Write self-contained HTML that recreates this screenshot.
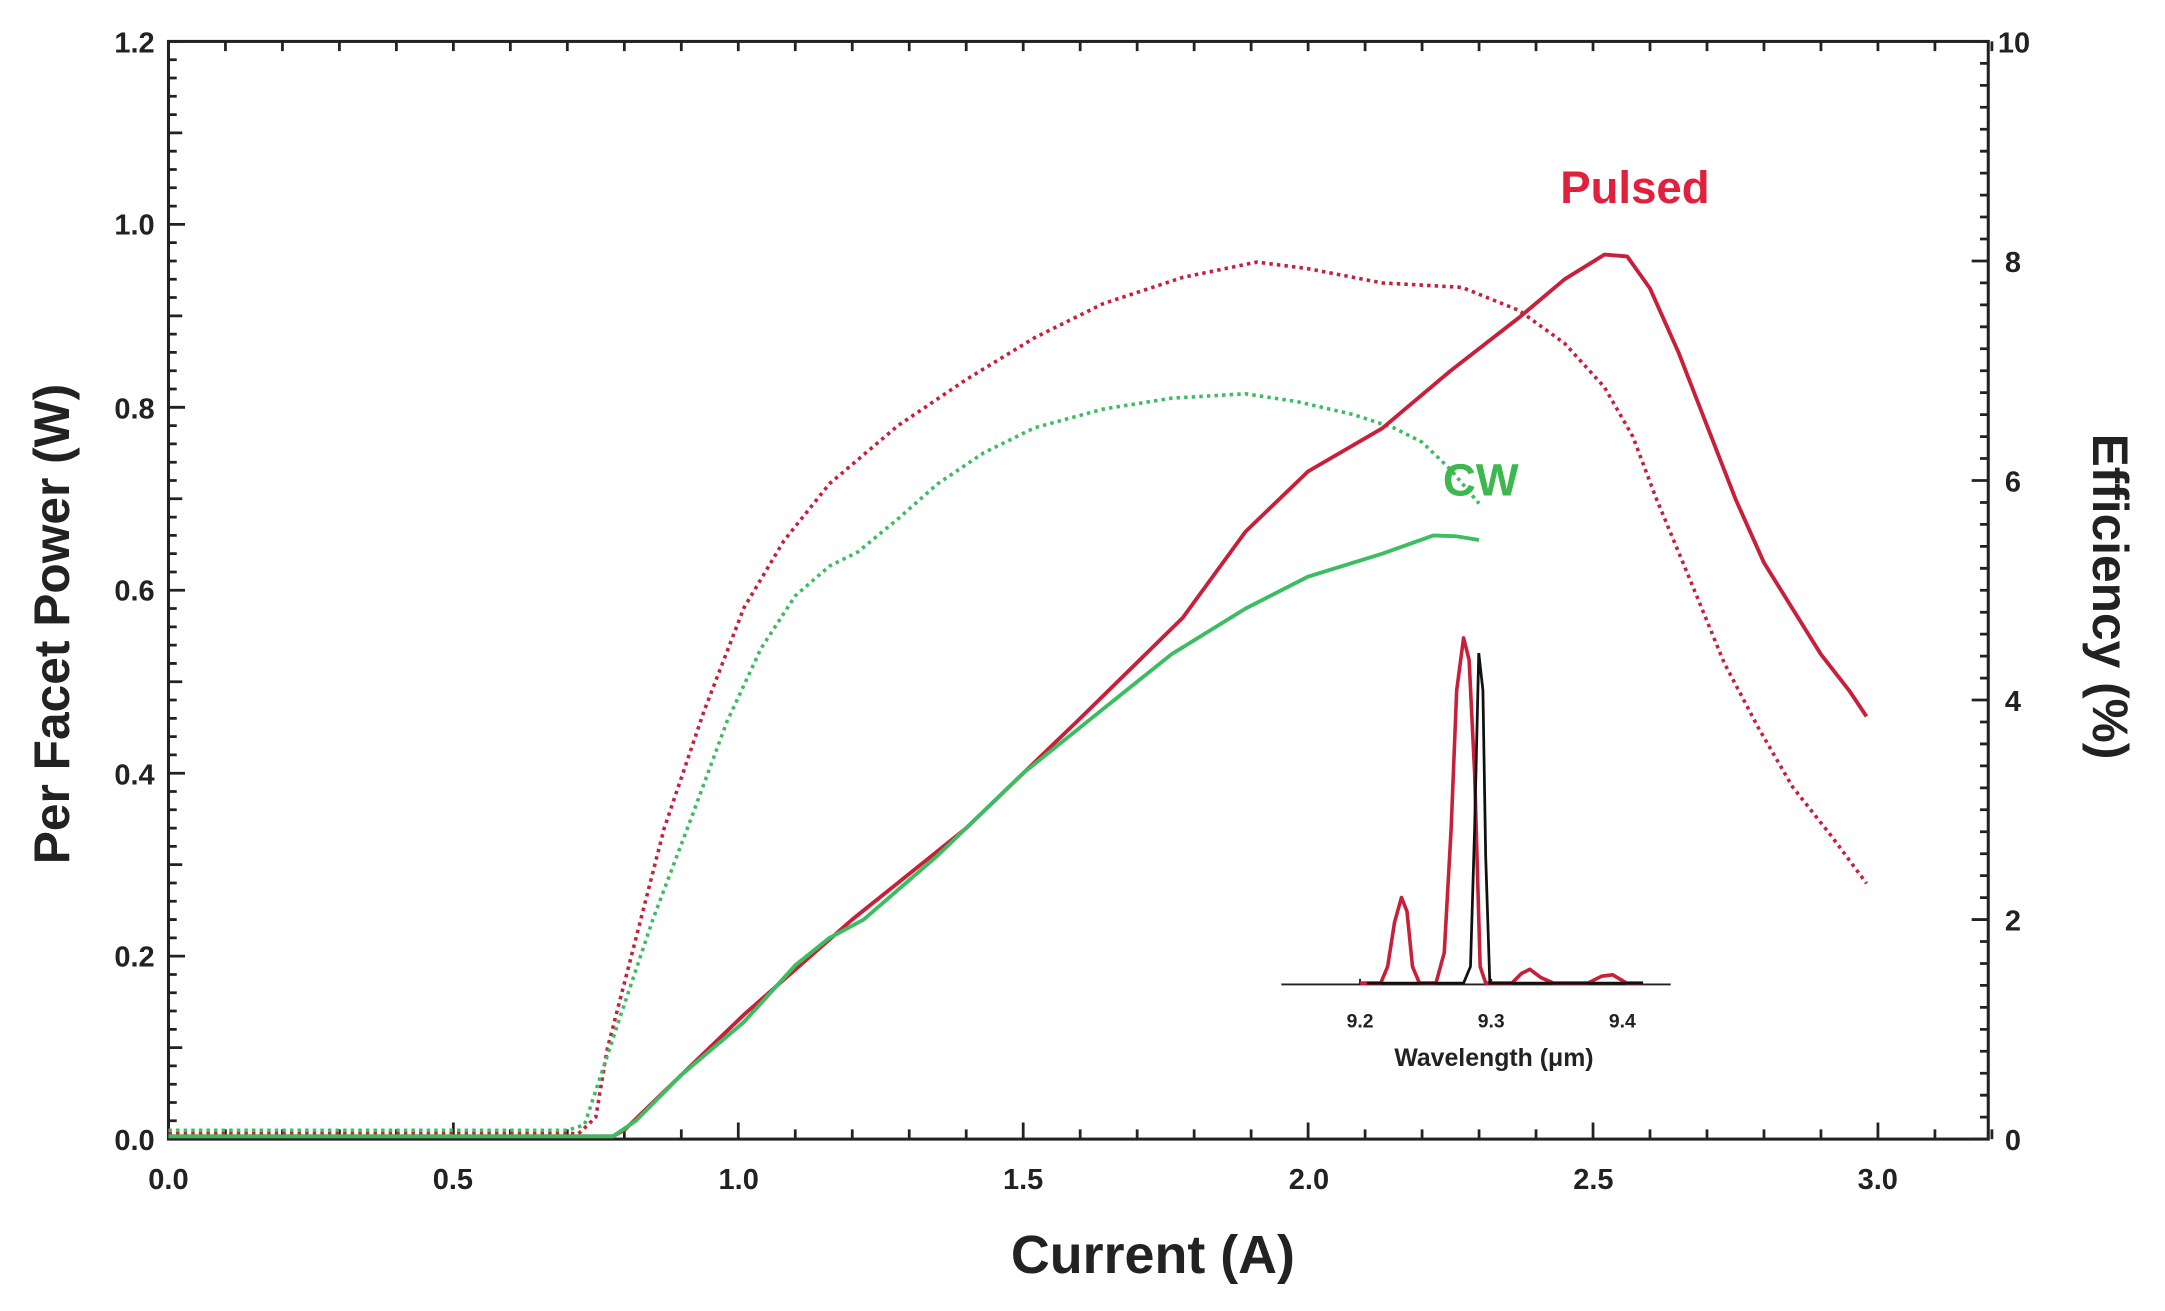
<!DOCTYPE html>
<html><head><meta charset="utf-8"><style>
html,body{margin:0;padding:0;background:#fff;}
svg{display:block;}
text{font-family:"Liberation Sans",Arial,sans-serif;font-weight:bold;fill:#222;}
</style></head><body>
<svg id="s" width="2165" height="1311" viewBox="0 0 1568 949.5" xmlns="http://www.w3.org/2000/svg">
<g id="g"></g>
<g font-size="21" text-anchor="middle">
<text x="122" y="861">0.0</text>
<text x="328" y="861">0.5</text>
<text x="535" y="861">1.0</text>
<text x="741" y="861">1.5</text>
<text x="948" y="861">2.0</text>
<text x="1154" y="861">2.5</text>
<text x="1360" y="861">3.0</text>
</g>
<g font-size="21" text-anchor="end">
<text x="112" y="833">0.0</text>
<text x="112" y="700">0.2</text>
<text x="112" y="568">0.4</text>
<text x="112" y="435">0.6</text>
<text x="112" y="303">0.8</text>
<text x="112" y="170">1.0</text>
<text x="112" y="38">1.2</text>
</g>
<g font-size="21">
<text x="1452" y="833">0</text>
<text x="1452" y="674">2</text>
<text x="1452" y="515">4</text>
<text x="1452" y="356">6</text>
<text x="1452" y="197">8</text>
<text x="1447" y="38">10</text>
</g>
<text x="835" y="922" font-size="39" text-anchor="middle">Current (A)</text>
<text transform="translate(50,452) rotate(-90)" font-size="36" text-anchor="middle">Per Facet Power (W)</text>
<text transform="translate(1516,432) rotate(90)" font-size="36" text-anchor="middle">Efficiency (%)</text>
<text x="1130" y="147" font-size="33" style="fill:#e0203c">Pulsed</text>
<text x="1045" y="359" font-size="33" style="fill:#3cb84f">CW</text>
<text x="985" y="744" font-size="14" text-anchor="middle">9.2</text>
<text x="1080" y="744" font-size="14" text-anchor="middle">9.3</text>
<text x="1175" y="744" font-size="14" text-anchor="middle">9.4</text>
<text x="1082" y="772" font-size="18" text-anchor="middle">Wavelength (μm)</text>
</svg>
<script>
var g=document.getElementById('g'),NS='http://www.w3.org/2000/svg';
function el(t,a){var e=document.createElementNS(NS,t);for(var k in a)e.setAttribute(k,a[k]);g.appendChild(e);return e;}
var X=function(c){return 122+c*412.7},Yp=function(p){return 825-p*662.5},Ye=function(e){return 825-e*79.5};
el('rect',{x:122,y:30,width:1318,height:795,fill:'none',stroke:'#222','stroke-width':2.2});
var t='';
for(var i=0;i<=32;i++){var x=X(i*0.1);var L=(i%5==0)?12:7;t+='M'+x+' 825v-'+L+'M'+x+' 30v'+7;}
for(var i=0;i<=60;i++){var y=Yp(i*0.02);var L=(i%10==0)?12:(i%5==0?10:6);t+='M122 '+y+'h'+L;}
for(var i=0;i<=50;i++){var y=Ye(i*0.2);var L=(i%10==0)?12:6;t+='M1440 '+y+'h-'+L;}
el('path',{d:t,stroke:'#222','stroke-width':2,fill:'none'});
function sm(pts,fy){var d='';for(var i=0;i<pts.length;i++){d+=(i?'L':'M')+X(pts[i][0]).toFixed(1)+' '+fy(pts[i][1]).toFixed(1);}return d;}
var red='#c8203a',grn='#3cbd62';
el('path',{d:sm([[0,0.05],[0.72,0.05],[0.75,0.2],[0.77,0.82],[0.82,1.82],[0.87,2.83],[0.94,3.9],[1.01,4.84],[1.08,5.45],[1.16,5.97],[1.28,6.5],[1.40,6.92],[1.52,7.3],[1.64,7.61],[1.78,7.85],[1.91,7.99],[2.0,7.93],[2.13,7.8],[2.27,7.76],[2.37,7.55],[2.45,7.25],[2.52,6.85],[2.57,6.4],[2.61,5.85],[2.67,5.1],[2.73,4.34],[2.79,3.75],[2.85,3.21],[2.92,2.75],[2.98,2.33]],Ye),fill:'none',stroke:red,'stroke-width':2.6,'stroke-dasharray':'2.5 3'});
el('path',{d:sm([[0,0.08],[0.70,0.08],[0.73,0.13],[0.79,1.07],[0.85,2.0],[0.92,2.96],[0.98,3.8],[1.04,4.47],[1.10,4.95],[1.16,5.22],[1.21,5.35],[1.28,5.65],[1.35,5.97],[1.43,6.25],[1.52,6.48],[1.64,6.65],[1.76,6.75],[1.89,6.79],[1.98,6.72],[2.08,6.6],[2.15,6.48],[2.2,6.35],[2.25,6.1],[2.30,5.79]],Ye),fill:'none',stroke:grn,'stroke-width':2.6,'stroke-dasharray':'2.5 3'});
el('path',{d:sm([[0,0.003],[0.78,0.003],[0.8,0.01],[0.9,0.07],[1.01,0.136],[1.2,0.24],[1.40,0.34],[1.6,0.46],[1.78,0.57],[1.89,0.664],[2.0,0.73],[2.13,0.777],[2.25,0.84],[2.37,0.898],[2.45,0.94],[2.52,0.967],[2.56,0.965],[2.6,0.93],[2.65,0.86],[2.7,0.78],[2.75,0.70],[2.8,0.63],[2.85,0.58],[2.9,0.53],[2.95,0.49],[2.98,0.462]],Yp),fill:'none',stroke:red,'stroke-width':2.8,'stroke-linejoin':'round'});
el('path',{d:sm([[0,0.003],[0.78,0.003],[0.82,0.02],[0.9,0.07],[1.01,0.128],[1.1,0.19],[1.16,0.22],[1.22,0.24],[1.35,0.31],[1.5,0.40],[1.64,0.47],[1.76,0.53],[1.89,0.58],[2.0,0.615],[2.13,0.64],[2.22,0.66],[2.26,0.659],[2.30,0.655]],Yp),fill:'none',stroke:grn,'stroke-width':2.8,'stroke-linejoin':'round'});
el('path',{d:'M928 713H1210M985 713v-4M1080 713v-4M1175 713v-4',stroke:'#222','stroke-width':1.4,fill:'none'});
el('path',{d:'M985 712L1000 712L1005 700L1010 668L1015 650L1019 660L1023 700L1028 712L1040 712L1046 690L1051 600L1055 500L1060 462L1064 478L1068 560L1072 700L1076 712L1095 712L1102 705L1108 702L1116 708L1125 712L1150 712L1160 707L1168 706L1178 712L1190 712',stroke:red,'stroke-width':2.6,fill:'none','stroke-linejoin':'round'});
el('path',{d:'M990 712L1060 712L1065 700L1068 600L1071 473L1074 500L1076 620L1079 712L1190 712',stroke:'#111','stroke-width':2,fill:'none'});
</script>
</body></html>
